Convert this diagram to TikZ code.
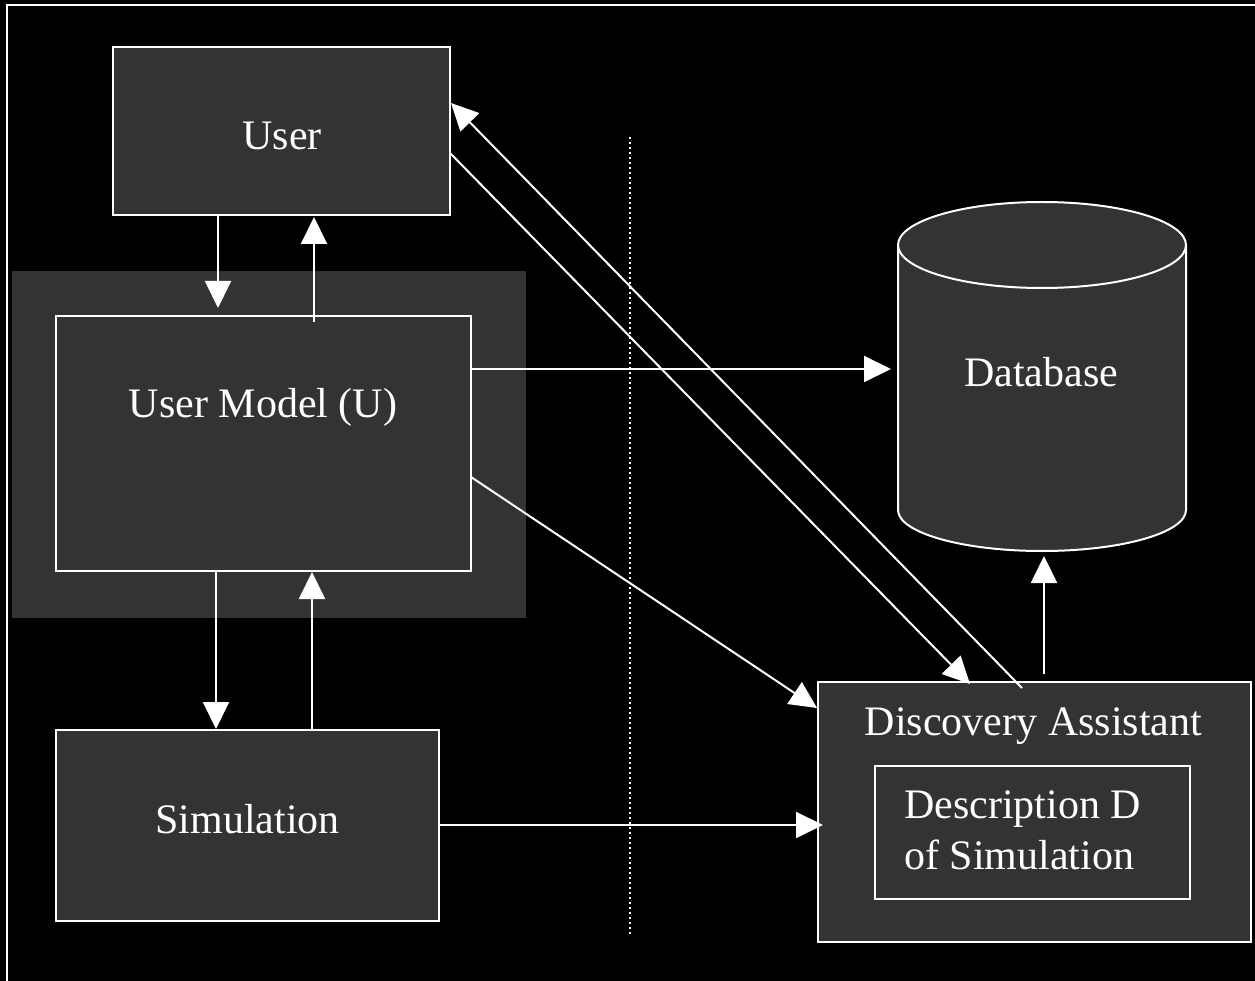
\documentclass[tikz,border=0pt]{standalone}
\usepackage{fontspec}
\setmainfont{Liberation Serif}
\usetikzlibrary{arrows.meta}
\definecolor{boxgray}{HTML}{333333}
\tikzset{
  box/.style={draw=white, line width=2pt, fill=boxgray, inner sep=0pt, outer sep=0pt},
  lbl/.style={text=white, anchor=base, inner sep=0pt, font=\fontsize{42}{51}\selectfont},
  arr/.style={draw=white, line width=2pt, -{Triangle[length=27pt,width=26pt]}},
}
\begin{document}
\begin{tikzpicture}[x=1pt,y=-1pt]
\clip (0,0) rectangle (1255,981);
\fill[black] (0,0) rectangle (1255,981);
% outer frame
\draw[white, line width=2pt] (7,5.5) rectangle (1300,1000);
% shaded area behind User Model
\node[fill=boxgray, inner sep=0pt, minimum width=514pt, minimum height=347pt] (shade) at (269,444.5) {};
% dotted divider
\coordinate (dtop) at (630,137);
\coordinate (dbot) at (630,935);
\draw[white, line width=1.6pt, dash pattern=on 2pt off 3pt] (dtop) -- (dbot);
% boxes
\node[box, minimum width=337pt, minimum height=168pt] (user) at (281.5,131) {};
\node[box, minimum width=415pt, minimum height=255pt] (um) at (263.5,443.5) {};
\node[box, minimum width=383pt, minimum height=191pt] (sim) at (247.5,825.5) {};
\node[box, minimum width=433pt, minimum height=260pt] (da) at (1034.5,812) {};
\node[box, minimum width=315pt, minimum height=133pt] (desc) at (1032.5,832.5) {};
% database cylinder
\path[fill=boxgray, draw=white, line width=2pt] (898,245) -- (898,510)
  arc[start angle=180, end angle=360, x radius=144pt, y radius=41pt] -- (1186,245);
\path[fill=boxgray, draw=white, line width=2pt] (1042,245) ellipse [x radius=144pt, y radius=43pt];
\node[inner sep=0pt, outer sep=0pt, minimum width=288pt, minimum height=349pt] (db) at (1042,376.5) {};
% labels
\node[lbl] (tuser) at (282,150) {User};
\node[lbl] (tum) at (263,417) {User Model (U)};
\node[lbl] (tdb) at (1041,386) {Database};
\node[lbl] (tsim) at (247.5,833) {Simulation};
\node[lbl] (tda) at (1033.5,735) {Discovery Assistant};
\node[lbl, anchor=base west] (tdesc1) at (904,818) {Description D};
\node[lbl, anchor=base west] (tdesc2) at (904,869) {of Simulation};
% connectors
\draw[arr] ([xshift=-63.5pt]user.south) -- ([xshift=-45.5pt,yshift=8pt]um.north);
\draw[arr] ([xshift=50.5pt,yshift=-6pt]um.north) -- ([xshift=32.5pt,yshift=-2pt]user.south);
\draw[arr] ([xshift=-47.5pt]um.south) -- ([xshift=-31.5pt,yshift=1pt]sim.north);
\draw[arr] ([xshift=64.5pt]sim.north) -- ([xshift=48.5pt,yshift=-1pt]um.south);
\draw[arr] ([yshift=74.5pt]um.east) -- ([xshift=-7pt,yshift=7.5pt]db.west);
\draw[arr] ([yshift=-33.5pt]um.east) -- ([xshift=-1pt,yshift=104pt]da.west);
\draw[arr] ([yshift=0.5pt]sim.east) -- ([xshift=5pt,yshift=-13pt]da.west);
\draw[arr] ([yshift=-22pt]user.east) -- ([xshift=-64.5pt,yshift=-2pt]da.north);
\draw[arr] ([xshift=-12.5pt,yshift=-6pt]da.north) -- ([xshift=1pt,yshift=28pt]user.east);
\draw[arr] ([xshift=9.5pt,yshift=8pt]da.north) -- ([xshift=2pt,yshift=-5pt]db.south);
\end{tikzpicture}
\end{document}
